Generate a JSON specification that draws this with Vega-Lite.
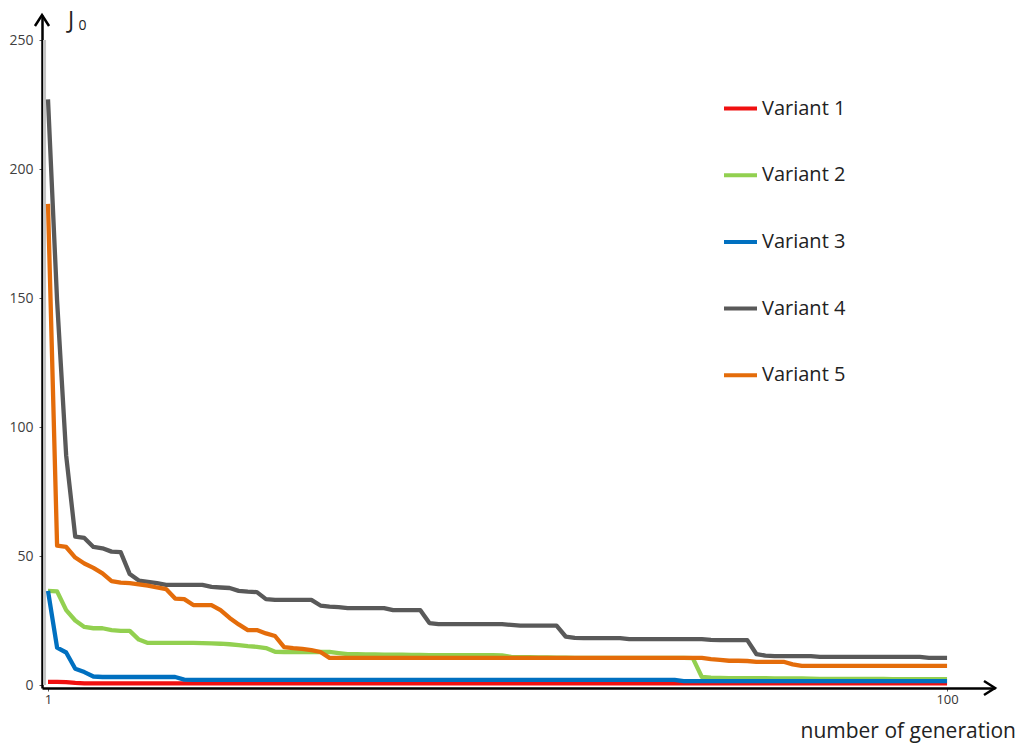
{
  "$schema": "https://vega.github.io/schema/vega-lite/v6.json",
  "width": 953,
  "height": 673,
  "autosize": {"type": "none"},
  "padding": {"left": 42, "top": 15, "right": 25, "bottom": 57},
  "background": "white",
  "config": {"view": {"stroke": null}, "font": "Open Sans"},
  "layer": [
    {
      "data": {"values": [{}]},
      "mark": {"type": "rule", "color": "#c4c4c4", "strokeWidth": 3},
      "encoding": {
        "x": {"datum": 0.62, "type": "quantitative"},
        "y": {"datum": 0, "type": "quantitative"},
        "y2": {"datum": 250}
      }
    },
    {
      "data": {"values": [
        {"g":1,"Variant 1":1.2,"Variant 2":36.5,"Variant 3":36.5,"Variant 4":227,"Variant 5":186.5},
        {"g":2,"Variant 1":1.2,"Variant 2":36.3,"Variant 3":14.5,"Variant 4":149,"Variant 5":54},
        {"g":3,"Variant 1":1.1,"Variant 2":29,"Variant 3":12.6,"Variant 4":89,"Variant 5":53.5},
        {"g":4,"Variant 1":0.8,"Variant 2":25,"Variant 3":6.3,"Variant 4":57.5,"Variant 5":49.4},
        {"g":5,"Variant 1":0.6,"Variant 2":22.5,"Variant 3":5,"Variant 4":57,"Variant 5":47.1},
        {"g":6,"Variant 1":0.6,"Variant 2":22,"Variant 3":3.3,"Variant 4":53.5,"Variant 5":45.4},
        {"g":7,"Variant 1":0.6,"Variant 2":22,"Variant 3":3.1,"Variant 4":53,"Variant 5":43.3},
        {"g":8,"Variant 1":0.6,"Variant 2":21.3,"Variant 3":3.1,"Variant 4":51.7,"Variant 5":40.3},
        {"g":9,"Variant 1":0.6,"Variant 2":21,"Variant 3":3.1,"Variant 4":51.5,"Variant 5":39.7},
        {"g":10,"Variant 1":0.6,"Variant 2":21,"Variant 3":3.1,"Variant 4":43,"Variant 5":39.5},
        {"g":11,"Variant 1":0.6,"Variant 2":17.6,"Variant 3":3.1,"Variant 4":40.5,"Variant 5":39},
        {"g":12,"Variant 1":0.6,"Variant 2":16.3,"Variant 3":3.1,"Variant 4":40,"Variant 5":38.5},
        {"g":13,"Variant 1":0.6,"Variant 2":16.3,"Variant 3":3.1,"Variant 4":39.5,"Variant 5":37.8},
        {"g":14,"Variant 1":0.6,"Variant 2":16.3,"Variant 3":3.1,"Variant 4":38.8,"Variant 5":37.2},
        {"g":15,"Variant 1":0.6,"Variant 2":16.3,"Variant 3":3.1,"Variant 4":38.8,"Variant 5":33.5},
        {"g":16,"Variant 1":0.6,"Variant 2":16.3,"Variant 3":2.1,"Variant 4":38.8,"Variant 5":33.3},
        {"g":17,"Variant 1":0.6,"Variant 2":16.3,"Variant 3":2,"Variant 4":38.8,"Variant 5":31},
        {"g":18,"Variant 1":0.6,"Variant 2":16.2,"Variant 3":2,"Variant 4":38.8,"Variant 5":31},
        {"g":19,"Variant 1":0.6,"Variant 2":16.1,"Variant 3":2,"Variant 4":38,"Variant 5":31},
        {"g":20,"Variant 1":0.6,"Variant 2":16,"Variant 3":2,"Variant 4":37.8,"Variant 5":29},
        {"g":21,"Variant 1":0.6,"Variant 2":15.8,"Variant 3":2,"Variant 4":37.6,"Variant 5":26},
        {"g":22,"Variant 1":0.6,"Variant 2":15.5,"Variant 3":2,"Variant 4":36.5,"Variant 5":23.5},
        {"g":23,"Variant 1":0.6,"Variant 2":15.1,"Variant 3":2,"Variant 4":36.2,"Variant 5":21.3},
        {"g":24,"Variant 1":0.6,"Variant 2":14.8,"Variant 3":2,"Variant 4":36,"Variant 5":21.3},
        {"g":25,"Variant 1":0.6,"Variant 2":14.3,"Variant 3":2,"Variant 4":33.3,"Variant 5":20},
        {"g":26,"Variant 1":0.6,"Variant 2":12.9,"Variant 3":2,"Variant 4":33,"Variant 5":19},
        {"g":27,"Variant 1":0.6,"Variant 2":12.8,"Variant 3":2,"Variant 4":33,"Variant 5":14.7},
        {"g":28,"Variant 1":0.6,"Variant 2":12.8,"Variant 3":2,"Variant 4":33,"Variant 5":14.3},
        {"g":29,"Variant 1":0.6,"Variant 2":12.8,"Variant 3":2,"Variant 4":33,"Variant 5":14},
        {"g":30,"Variant 1":0.6,"Variant 2":12.8,"Variant 3":2,"Variant 4":33,"Variant 5":13.5},
        {"g":31,"Variant 1":0.6,"Variant 2":12.8,"Variant 3":2,"Variant 4":30.8,"Variant 5":12.8},
        {"g":32,"Variant 1":0.6,"Variant 2":12.8,"Variant 3":2,"Variant 4":30.4,"Variant 5":10.5},
        {"g":33,"Variant 1":0.6,"Variant 2":12.4,"Variant 3":2,"Variant 4":30.2,"Variant 5":10.5},
        {"g":34,"Variant 1":0.6,"Variant 2":12,"Variant 3":2,"Variant 4":29.8,"Variant 5":10.5},
        {"g":35,"Variant 1":0.6,"Variant 2":12,"Variant 3":2,"Variant 4":29.8,"Variant 5":10.5},
        {"g":36,"Variant 1":0.6,"Variant 2":11.9,"Variant 3":2,"Variant 4":29.8,"Variant 5":10.5},
        {"g":37,"Variant 1":0.6,"Variant 2":11.9,"Variant 3":2,"Variant 4":29.8,"Variant 5":10.5},
        {"g":38,"Variant 1":0.6,"Variant 2":11.8,"Variant 3":2,"Variant 4":29.8,"Variant 5":10.5},
        {"g":39,"Variant 1":0.6,"Variant 2":11.8,"Variant 3":2,"Variant 4":29,"Variant 5":10.5},
        {"g":40,"Variant 1":0.6,"Variant 2":11.8,"Variant 3":2,"Variant 4":29,"Variant 5":10.5},
        {"g":41,"Variant 1":0.6,"Variant 2":11.7,"Variant 3":2,"Variant 4":29,"Variant 5":10.5},
        {"g":42,"Variant 1":0.6,"Variant 2":11.7,"Variant 3":2,"Variant 4":29,"Variant 5":10.5},
        {"g":43,"Variant 1":0.6,"Variant 2":11.6,"Variant 3":2,"Variant 4":24,"Variant 5":10.5},
        {"g":44,"Variant 1":0.6,"Variant 2":11.6,"Variant 3":2,"Variant 4":23.6,"Variant 5":10.5},
        {"g":45,"Variant 1":0.6,"Variant 2":11.6,"Variant 3":2,"Variant 4":23.6,"Variant 5":10.5},
        {"g":46,"Variant 1":0.6,"Variant 2":11.6,"Variant 3":2,"Variant 4":23.6,"Variant 5":10.5},
        {"g":47,"Variant 1":0.6,"Variant 2":11.6,"Variant 3":2,"Variant 4":23.6,"Variant 5":10.5},
        {"g":48,"Variant 1":0.6,"Variant 2":11.6,"Variant 3":2,"Variant 4":23.6,"Variant 5":10.5},
        {"g":49,"Variant 1":0.6,"Variant 2":11.6,"Variant 3":2,"Variant 4":23.6,"Variant 5":10.5},
        {"g":50,"Variant 1":0.6,"Variant 2":11.6,"Variant 3":2,"Variant 4":23.6,"Variant 5":10.5},
        {"g":51,"Variant 1":0.6,"Variant 2":11.5,"Variant 3":2,"Variant 4":23.6,"Variant 5":10.5},
        {"g":52,"Variant 1":0.6,"Variant 2":10.9,"Variant 3":2,"Variant 4":23.3,"Variant 5":10.5},
        {"g":53,"Variant 1":0.6,"Variant 2":10.8,"Variant 3":2,"Variant 4":23,"Variant 5":10.5},
        {"g":54,"Variant 1":0.6,"Variant 2":10.8,"Variant 3":2,"Variant 4":23,"Variant 5":10.5},
        {"g":55,"Variant 1":0.6,"Variant 2":10.7,"Variant 3":2,"Variant 4":23,"Variant 5":10.5},
        {"g":56,"Variant 1":0.6,"Variant 2":10.7,"Variant 3":2,"Variant 4":23,"Variant 5":10.5},
        {"g":57,"Variant 1":0.6,"Variant 2":10.6,"Variant 3":2,"Variant 4":23,"Variant 5":10.5},
        {"g":58,"Variant 1":0.6,"Variant 2":10.6,"Variant 3":2,"Variant 4":18.8,"Variant 5":10.5},
        {"g":59,"Variant 1":0.6,"Variant 2":10.5,"Variant 3":2,"Variant 4":18.3,"Variant 5":10.5},
        {"g":60,"Variant 1":0.6,"Variant 2":10.5,"Variant 3":2,"Variant 4":18.2,"Variant 5":10.5},
        {"g":61,"Variant 1":0.6,"Variant 2":10.5,"Variant 3":2,"Variant 4":18.2,"Variant 5":10.5},
        {"g":62,"Variant 1":0.6,"Variant 2":10.5,"Variant 3":2,"Variant 4":18.2,"Variant 5":10.5},
        {"g":63,"Variant 1":0.6,"Variant 2":10.5,"Variant 3":2,"Variant 4":18.2,"Variant 5":10.5},
        {"g":64,"Variant 1":0.6,"Variant 2":10.5,"Variant 3":2,"Variant 4":18.2,"Variant 5":10.5},
        {"g":65,"Variant 1":0.6,"Variant 2":10.5,"Variant 3":2,"Variant 4":17.8,"Variant 5":10.5},
        {"g":66,"Variant 1":0.6,"Variant 2":10.5,"Variant 3":2,"Variant 4":17.8,"Variant 5":10.5},
        {"g":67,"Variant 1":0.6,"Variant 2":10.5,"Variant 3":2,"Variant 4":17.8,"Variant 5":10.5},
        {"g":68,"Variant 1":0.6,"Variant 2":10.5,"Variant 3":2,"Variant 4":17.8,"Variant 5":10.5},
        {"g":69,"Variant 1":0.6,"Variant 2":10.5,"Variant 3":2,"Variant 4":17.8,"Variant 5":10.5},
        {"g":70,"Variant 1":0.6,"Variant 2":10.5,"Variant 3":2,"Variant 4":17.8,"Variant 5":10.5},
        {"g":71,"Variant 1":0.6,"Variant 2":10.5,"Variant 3":1.5,"Variant 4":17.8,"Variant 5":10.5},
        {"g":72,"Variant 1":0.6,"Variant 2":10.4,"Variant 3":1.5,"Variant 4":17.8,"Variant 5":10.5},
        {"g":73,"Variant 1":0.6,"Variant 2":3.1,"Variant 3":1.5,"Variant 4":17.8,"Variant 5":10.5},
        {"g":74,"Variant 1":0.6,"Variant 2":2.9,"Variant 3":1.5,"Variant 4":17.5,"Variant 5":10},
        {"g":75,"Variant 1":0.6,"Variant 2":2.8,"Variant 3":1.5,"Variant 4":17.4,"Variant 5":9.7},
        {"g":76,"Variant 1":0.6,"Variant 2":2.7,"Variant 3":1.5,"Variant 4":17.4,"Variant 5":9.4},
        {"g":77,"Variant 1":0.6,"Variant 2":2.7,"Variant 3":1.5,"Variant 4":17.4,"Variant 5":9.4},
        {"g":78,"Variant 1":0.6,"Variant 2":2.7,"Variant 3":1.5,"Variant 4":17.4,"Variant 5":9.3},
        {"g":79,"Variant 1":0.6,"Variant 2":2.7,"Variant 3":1.5,"Variant 4":12,"Variant 5":9},
        {"g":80,"Variant 1":0.6,"Variant 2":2.7,"Variant 3":1.5,"Variant 4":11.4,"Variant 5":9},
        {"g":81,"Variant 1":0.6,"Variant 2":2.6,"Variant 3":1.5,"Variant 4":11.2,"Variant 5":9},
        {"g":82,"Variant 1":0.6,"Variant 2":2.6,"Variant 3":1.5,"Variant 4":11.2,"Variant 5":9},
        {"g":83,"Variant 1":0.6,"Variant 2":2.6,"Variant 3":1.5,"Variant 4":11.2,"Variant 5":8},
        {"g":84,"Variant 1":0.6,"Variant 2":2.6,"Variant 3":1.5,"Variant 4":11.2,"Variant 5":7.4},
        {"g":85,"Variant 1":0.6,"Variant 2":2.5,"Variant 3":1.5,"Variant 4":11.2,"Variant 5":7.4},
        {"g":86,"Variant 1":0.6,"Variant 2":2.4,"Variant 3":1.5,"Variant 4":10.9,"Variant 5":7.4},
        {"g":87,"Variant 1":0.6,"Variant 2":2.4,"Variant 3":1.5,"Variant 4":10.9,"Variant 5":7.4},
        {"g":88,"Variant 1":0.6,"Variant 2":2.4,"Variant 3":1.5,"Variant 4":10.9,"Variant 5":7.4},
        {"g":89,"Variant 1":0.6,"Variant 2":2.4,"Variant 3":1.5,"Variant 4":10.9,"Variant 5":7.4},
        {"g":90,"Variant 1":0.6,"Variant 2":2.4,"Variant 3":1.5,"Variant 4":10.9,"Variant 5":7.4},
        {"g":91,"Variant 1":0.6,"Variant 2":2.4,"Variant 3":1.5,"Variant 4":10.9,"Variant 5":7.4},
        {"g":92,"Variant 1":0.6,"Variant 2":2.4,"Variant 3":1.5,"Variant 4":10.9,"Variant 5":7.4},
        {"g":93,"Variant 1":0.6,"Variant 2":2.4,"Variant 3":1.5,"Variant 4":10.9,"Variant 5":7.4},
        {"g":94,"Variant 1":0.6,"Variant 2":2.3,"Variant 3":1.5,"Variant 4":10.9,"Variant 5":7.4},
        {"g":95,"Variant 1":0.6,"Variant 2":2.3,"Variant 3":1.5,"Variant 4":10.9,"Variant 5":7.4},
        {"g":96,"Variant 1":0.6,"Variant 2":2.3,"Variant 3":1.5,"Variant 4":10.9,"Variant 5":7.4},
        {"g":97,"Variant 1":0.6,"Variant 2":2.3,"Variant 3":1.5,"Variant 4":10.9,"Variant 5":7.4},
        {"g":98,"Variant 1":0.6,"Variant 2":2.3,"Variant 3":1.5,"Variant 4":10.5,"Variant 5":7.4},
        {"g":99,"Variant 1":0.6,"Variant 2":2.3,"Variant 3":1.5,"Variant 4":10.5,"Variant 5":7.4},
        {"g":100,"Variant 1":0.6,"Variant 2":2.3,"Variant 3":1.5,"Variant 4":10.5,"Variant 5":7.4}
      ]},
      "transform": [{"fold": ["Variant 1", "Variant 2", "Variant 3", "Variant 4", "Variant 5"], "as": ["series", "J0"]}],
      "mark": {"type": "line", "strokeWidth": 4.3, "strokeJoin": "round"},
      "encoding": {
        "x": {
          "field": "g", "type": "quantitative",
          "scale": {"domain": [0.339, 105.28], "nice": false, "zero": false},
          "axis": {
            "values": [1, 100], "grid": false,
            "domainColor": "#000", "domainWidth": 2.5,
            "tickColor": "#555", "tickSize": 3, "tickWidth": 1,
            "labelFont": "Open Sans", "labelFontSize": 13, "labelColor": "#333", "labelPadding": 2,
            "title": "number of generation", "titleFont": "Open Sans", "titleFontSize": 21,
            "titleFontWeight": "normal", "titleColor": "#222",
            "titleAlign": "left", "titleAnchor": "start", "titleX": 758, "titleY": 49, "titleBaseline": "alphabetic"
          }
        },
        "y": {
          "field": "J0", "type": "quantitative",
          "scale": {"domain": [-1.16, 259.7], "nice": false, "zero": false},
          "axis": {
            "values": [0, 50, 100, 150, 200, 250], "grid": false,
            "domainColor": "#000", "domainWidth": 2.5,
            "tickColor": "#555", "tickSize": 3, "tickWidth": 1,
            "labelFont": "Open Sans", "labelFontSize": 14, "labelColor": "#404040", "labelPadding": 6,
            "title": null
          }
        },
        "color": {
          "field": "series", "type": "nominal",
          "scale": {
            "domain": ["Variant 1", "Variant 2", "Variant 3", "Variant 4", "Variant 5"],
            "range": ["#f01010", "#92d050", "#0070c0", "#595959", "#e46c0a"]
          },
          "legend": {
            "orient": "none", "legendX": 680, "legendY": 75, "title": null,
            "symbolType": "stroke", "symbolSize": 1089, "symbolStrokeWidth": 4,
            "labelFont": "Open Sans", "labelFontSize": 20, "labelColor": "#222", "labelOffset": 3,
            "rowPadding": 37.7, "padding": 0
          }
        }
      }
    },
    {
      "data": {"values": [{}]},
      "mark": {"type": "point", "shape": "M -0.64 1 L 0 0 L 0.64 1", "size": 484, "filled": false, "stroke": "#000", "strokeWidth": 2.5, "opacity": 1},
      "encoding": {
        "x": {"datum": 0.339, "type": "quantitative"},
        "y": {"datum": 259.7, "type": "quantitative"}
      }
    },
    {
      "data": {"values": [{}]},
      "mark": {"type": "point", "shape": "M -1 -0.64 L 0 0 L -1 0.64", "size": 484, "filled": false, "stroke": "#000", "strokeWidth": 2.5, "opacity": 1},
      "encoding": {
        "x": {"datum": 105.28, "type": "quantitative"},
        "y": {"datum": -1.16, "type": "quantitative"}
      }
    },
    {
      "data": {"values": [{}]},
      "mark": {"type": "text", "text": "J", "font": "Open Sans", "fontSize": 23, "color": "#222", "align": "left", "baseline": "alphabetic"},
      "encoding": {
        "x": {"datum": 3.2, "type": "quantitative"},
        "y": {"datum": 254.6, "type": "quantitative"}
      }
    },
    {
      "data": {"values": [{}]},
      "mark": {"type": "text", "text": "0", "font": "Open Sans", "fontSize": 14, "color": "#222", "align": "left", "baseline": "alphabetic"},
      "encoding": {
        "x": {"datum": 4.35, "type": "quantitative"},
        "y": {"datum": 253.9, "type": "quantitative"}
      }
    }
  ]
}
